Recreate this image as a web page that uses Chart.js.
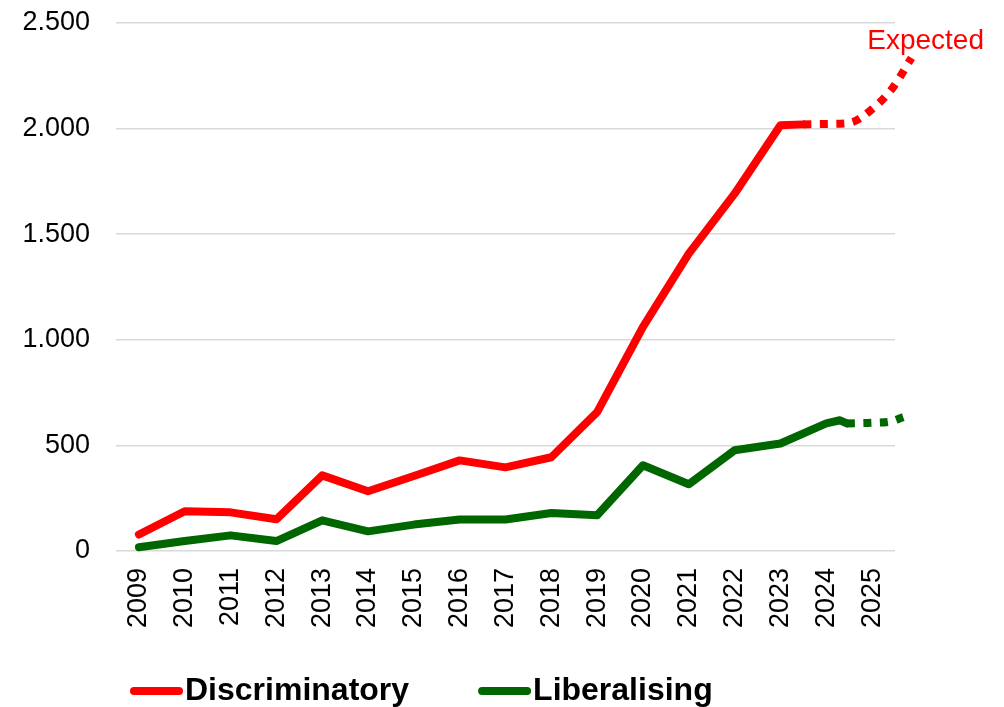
<!DOCTYPE html>
<html>
<head>
<meta charset="utf-8">
<title>Discriminatory and liberalising measures</title>
<script src="https://cdn.jsdelivr.net/npm/chart.js@4.4.1/dist/chart.umd.min.js"></script>
<style>
  html, body { margin: 0; padding: 0; background: #ffffff; }
  #chart { display: block; }
</style>
</head>
<body>
<canvas id="chart" width="1004" height="707"></canvas>
<script>
// Year ticks along the x axis
const years = [2009, 2010, 2011, 2012, 2013, 2014, 2015, 2016, 2017, 2018, 2019, 2020, 2021, 2022, 2023, 2024, 2025];
const yTicks = [0, 500, 1000, 1500, 2000, 2500];

// Discriminatory measures (observed)
const discriminatoryYears  = [2009, 2010, 2011, 2012, 2013, 2014, 2015, 2016, 2017, 2018, 2019, 2020, 2021, 2022, 2023, 2023.5];
const discriminatoryValues = [78, 188, 183, 150, 358, 283, 355, 429, 396, 444, 658, 1061, 1408, 1692, 2016, 2020];

// Discriminatory measures (expected)
const discriminatoryExpYears  = [2023.5, 2024, 2024.5, 2025, 2025.45, 2025.86];
const discriminatoryExpValues = [2020, 2022, 2027, 2092, 2193, 2335];

// Liberalising measures (observed)
const liberalisingYears  = [2009, 2010, 2011, 2012, 2013, 2014, 2015, 2016, 2017, 2018, 2019, 2020, 2021, 2022, 2023, 2024, 2024.3, 2024.45];
const liberalisingValues = [18, 47, 74, 47, 145, 93, 125, 149, 149, 180, 169, 406, 316, 477, 509, 604, 619, 604];

// Liberalising measures (expected)
const liberalisingExpYears  = [2024.45, 2025, 2025.4, 2025.68];
const liberalisingExpValues = [604, 607, 613, 634];

const RED = '#ff0000';
const GREEN = '#006600';
const FONT = "'Liberation Sans', Arial, Helvetica, sans-serif";

function points(xs, ys) {
  return xs.map((x, i) => ({ x: x, y: ys[i] }));
}

function thousands(v) {
  return String(v).replace(/\B(?=(\d{3})+(?!\d))/g, '.');
}

const solidLine = {
  borderWidth: 8,
  borderCapStyle: 'round',
  borderJoinStyle: 'round',
  pointRadius: 0,
  pointHoverRadius: 0,
  tension: 0,
  fill: false,
  clip: false
};

const dottedLine = {
  borderWidth: 8,
  borderCapStyle: 'butt',
  borderJoinStyle: 'round',
  borderDash: [8, 8.5],
  pointRadius: 0,
  pointHoverRadius: 0,
  cubicInterpolationMode: 'monotone',
  fill: false,
  clip: false
};

// Legend with line samples plus the "Expected" note
const annotations = {
  id: 'annotations',
  afterDraw(chart) {
    const ctx = chart.ctx;
    const area = chart.chartArea;
    const yScale = chart.scales.y;
    ctx.save();

    // "Expected" note in the upper right corner
    ctx.font = '28px ' + FONT;
    ctx.fillStyle = RED;
    ctx.textAlign = 'right';
    ctx.textBaseline = 'alphabetic';
    ctx.fillText('Expected', chart.width - 20, yScale.getPixelForValue(2500) + 26);

    // Legend entries
    const items = [
      { text: 'Discriminatory', color: RED },
      { text: 'Liberalising', color: GREEN }
    ];
    ctx.font = 'bold 32px ' + FONT;
    ctx.textAlign = 'left';
    let x = area.left + 14;
    const lineY = chart.height - 16;
    items.forEach(item => {
      ctx.strokeStyle = item.color;
      ctx.lineWidth = 8;
      ctx.lineCap = 'round';
      ctx.beginPath();
      ctx.moveTo(x + 4, lineY);
      ctx.lineTo(x + 49, lineY);
      ctx.stroke();
      ctx.fillStyle = '#000000';
      ctx.fillText(item.text, x + 55, lineY + 9);
      x += 55 + ctx.measureText(item.text).width + 69;
    });
    ctx.restore();
  }
};

new Chart(document.getElementById('chart'), {
  type: 'line',
  data: {
    datasets: [
      Object.assign({ label: 'Discriminatory', data: points(discriminatoryYears, discriminatoryValues), borderColor: RED }, solidLine),
      Object.assign({ label: 'Discriminatory (expected)', data: points(discriminatoryExpYears, discriminatoryExpValues), borderColor: RED }, dottedLine),
      Object.assign({ label: 'Liberalising', data: points(liberalisingYears, liberalisingValues), borderColor: GREEN }, solidLine),
      Object.assign({ label: 'Liberalising (expected)', data: points(liberalisingExpYears, liberalisingExpValues), borderColor: GREEN }, dottedLine)
    ]
  },
  options: {
    responsive: false,
    devicePixelRatio: 1,
    animation: false,
    layout: { padding: { left: 23, right: 109, top: 23, bottom: 79 } },
    plugins: {
      legend: { display: false },
      tooltip: { enabled: false }
    },
    scales: {
      x: {
        type: 'linear',
        min: years[0] - 0.5,
        max: years[years.length - 1] + 0.5,
        afterBuildTicks: scale => { scale.ticks = years.map(v => ({ value: v })); },
        afterFit: scale => { scale.height = 77; },
        grid: { display: false, drawTicks: false },
        border: { display: false },
        ticks: {
          autoSkip: false,
          minRotation: 90,
          maxRotation: 90,
          padding: 17,
          color: '#000000',
          font: { family: FONT, size: 27 },
          callback: v => String(v)
        }
      },
      y: {
        min: yTicks[0],
        max: yTicks[yTicks.length - 1],
        afterBuildTicks: scale => { scale.ticks = yTicks.map(v => ({ value: v })); },
        afterFit: scale => {
          scale.width = 93;
          scale.paddingTop = 0;
          scale.paddingBottom = 0;
        },
        grid: { color: '#d9d9d9', lineWidth: 1.5, drawTicks: false },
        border: { display: false },
        ticks: {
          padding: 26,
          color: '#000000',
          font: { family: FONT, size: 27 },
          callback: v => thousands(v)
        }
      }
    }
  },
  plugins: [annotations]
});
</script>
</body>
</html>
